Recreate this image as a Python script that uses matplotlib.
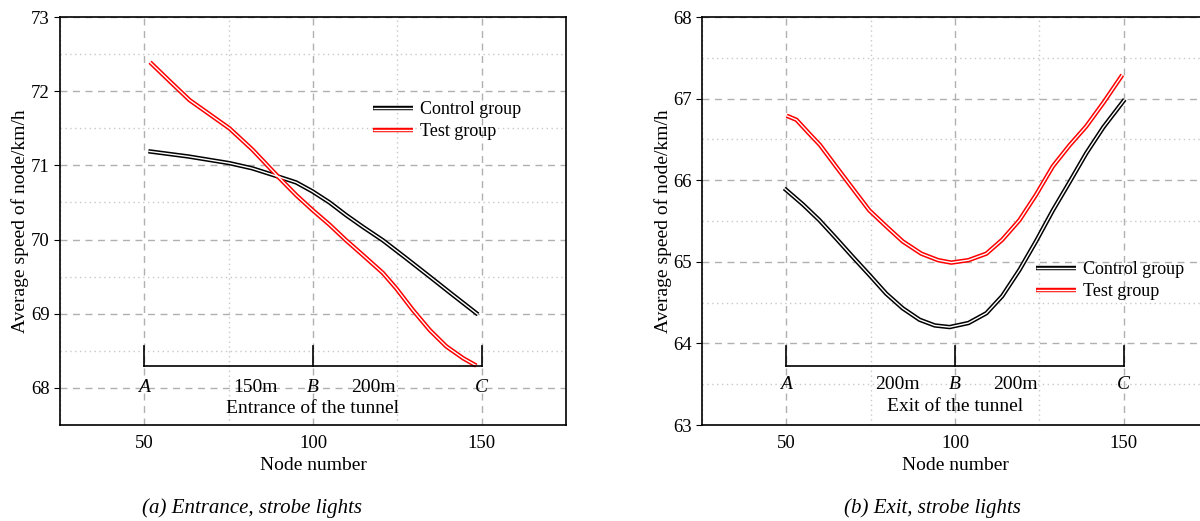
import matplotlib.pyplot as plt
from matplotlib.legend_handler import HandlerTuple
from matplotlib.ticker import MultipleLocator

plt.rcParams['font.family'] = ['Liberation Serif', 'DejaVu Serif']

# (a) entrance
ent_x_test = [51.7, 57.4, 63.4, 69.3, 75.2, 82.1, 89.6, 95.0, 99.8, 104.9, 109.8,
              114.8, 120.7, 124.7, 129.6, 134.6, 139.5, 144.5, 148.4]
ent_test = [72.39, 72.14, 71.88, 71.69, 71.50, 71.21, 70.85, 70.60, 70.40, 70.20, 69.99,
            69.79, 69.55, 69.34, 69.05, 68.78, 68.56, 68.40, 68.30]
ent_x_control = [51.2, 63.0, 75.2, 82.0, 89.6, 95.0, 99.8, 104.9, 109.8, 114.8, 120.7,
                 127.0, 134.6, 141.0, 148.9]
ent_control = [71.19, 71.12, 71.03, 70.96, 70.85, 70.77, 70.65, 70.50, 70.33, 70.17, 69.99,
               69.77, 69.50, 69.27, 68.99]

# (b) exit
exit_x_test = [50.1, 53.0, 56.8, 60.0, 64.7, 70.0, 74.6, 80.0, 84.5, 90.0, 95.0, 98.9,
               104.0, 109.3, 114.0, 119.1, 124.0, 129.0, 134.0, 138.9, 144.0, 149.6]
exit_test = [66.79, 66.74, 66.57, 66.43, 66.17, 65.88, 65.63, 65.42, 65.25, 65.10, 65.02, 64.99,
             65.02, 65.10, 65.27, 65.51, 65.82, 66.17, 66.43, 66.66, 66.95, 67.29]
exit_x_control = [49.4, 55.0, 59.8, 64.7, 69.7, 74.6, 79.6, 84.5, 89.5, 94.0, 98.4,
                  104.0, 109.3, 114.0, 119.1, 124.0, 129.0, 134.0, 138.9, 144.0, 150.3]
exit_control = [65.90, 65.70, 65.51, 65.29, 65.06, 64.84, 64.61, 64.43, 64.29, 64.22, 64.20,
                64.25, 64.37, 64.58, 64.90, 65.25, 65.63, 65.98, 66.33, 66.65, 66.99]

W, H = 1200, 521
fig = plt.figure(figsize=(W / 100, H / 100), dpi=100)
ax1 = fig.add_axes([60 / W, 1 - 425 / H, 506 / W, 408 / H])
ax2 = fig.add_axes([702 / W, 1 - 425 / H, 506 / W, 408 / H])


def double_line(ax, x, y, color):
    outer, = ax.plot(x, y, color=color, lw=3.2, solid_capstyle='butt',
                     solid_joinstyle='round', zorder=3)
    inner, = ax.plot(x, y, color='white', lw=1.0, solid_capstyle='butt',
                     solid_joinstyle='round', zorder=4)
    return (outer, inner)


def style(ax, ylim, ymaj):
    ax.set_xlim(25, 175)
    ax.set_ylim(*ylim)
    ax.xaxis.set_major_locator(MultipleLocator(50))
    ax.xaxis.set_minor_locator(MultipleLocator(25))
    ax.yaxis.set_major_locator(MultipleLocator(ymaj))
    ax.yaxis.set_minor_locator(MultipleLocator(ymaj / 2))
    ax.grid(True, which='major', color='#b0b0b0', linestyle=(0, (5, 4)), lw=1.0)
    ax.grid(True, which='minor', color='#c8c8c8', linestyle=(0, (1, 2.5)), lw=1.0)
    ax.set_axisbelow(True)
    ax.tick_params(which='minor', length=0)
    ax.tick_params(axis='x', which='major', length=0, pad=7, labelsize=13.5)
    ax.tick_params(axis='y', which='major', length=4, direction='out', labelsize=13.5)
    for s in ax.spines.values():
        s.set_linewidth(1.2)
    ax.set_xlabel('Node number', fontsize=14, labelpad=4)
    ax.set_ylabel('Average speed of node/km/h', fontsize=14, labelpad=1)


def bracket(ax, ybar, ytop, ylab, seg_labels, title, ytitle):
    ax.plot([50, 150], [ybar, ybar], color='black', lw=1.2, zorder=5)
    for xv in (50, 100, 150):
        ax.plot([xv, xv], [ybar, ytop], color='black', lw=1.2, zorder=5)
    for xv, lab in zip((50, 100, 150), ('A', 'B', 'C')):
        ax.text(xv, ylab, lab, style='italic', fontsize=14, ha='center', va='center', zorder=6)
    for xv, lab in seg_labels:
        ax.text(xv, ylab, lab, fontsize=14, ha='center', va='center', zorder=6)
    ax.text(100, ytitle, title, fontsize=14, ha='center', va='center', zorder=6)


legend_kw = dict(handler_map={tuple: HandlerTuple(ndivide=1, pad=0)}, frameon=False,
                 fontsize=13, loc='upper left', handlelength=2.2, labelspacing=0.3,
                 handletextpad=0.4, borderpad=0, borderaxespad=0)

style(ax1, (67.5, 73), 1)
h1 = double_line(ax1, ent_x_control, ent_control, 'black')
h2 = double_line(ax1, ent_x_test, ent_test, 'red')
bracket(ax1, 68.30, 68.57, 68.0, [(83, '150m'), (118, '200m')],
        'Entrance of the tunnel', 67.72)
ax1.legend([h1, h2], ['Control group', 'Test group'],
           bbox_to_anchor=(313 / 506, 1 - 84 / 408), **legend_kw)

style(ax2, (63, 68), 1)
g1 = double_line(ax2, exit_x_control, exit_control, 'black')
g2 = double_line(ax2, exit_x_test, exit_test, 'red')
bracket(ax2, 63.72, 63.97, 63.5, [(83, '200m'), (118, '200m')],
        'Exit of the tunnel', 63.23)
ax2.legend([g1, g2], ['Control group', 'Test group'],
           bbox_to_anchor=(334 / 506, 1 - 244 / 408), **legend_kw)

fig.text(252 / W, 1 - 508 / H, '(a) Entrance, strobe lights', style='italic', fontsize=15,
         ha='center', va='center')
fig.text(932 / W, 1 - 508 / H, '(b) Exit, strobe lights', style='italic', fontsize=15,
         ha='center', va='center')

fig.savefig('out.png', dpi=100)
